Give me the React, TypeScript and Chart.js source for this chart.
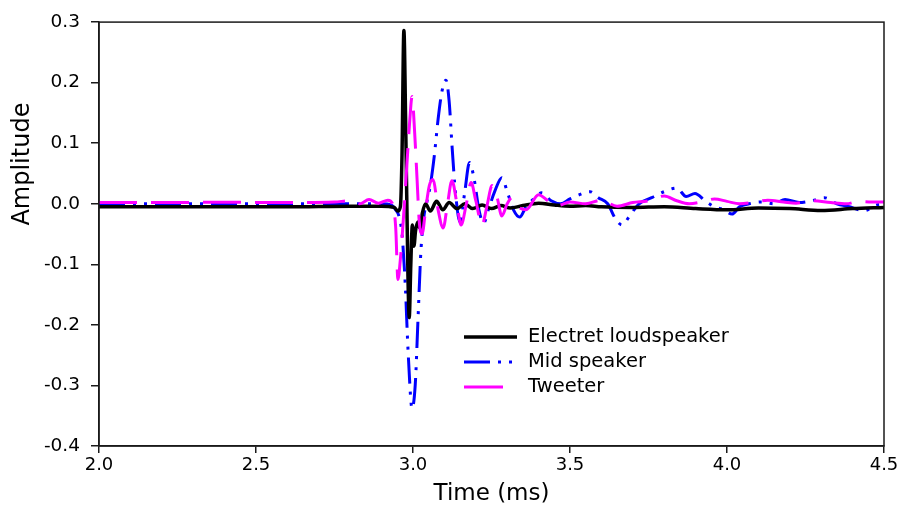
import React, { useEffect, useRef } from 'react';
import { Chart, registerables } from 'chart.js';

Chart.register(...registerables);

// ---- Data ----
const xTickValues = [2.0, 2.5, 3.0, 3.5, 4.0, 4.5];
const yTickValues = [-0.4, -0.3, -0.2, -0.1, 0.0, 0.1, 0.2, 0.3];
const seriesNames = ['Electret loudspeaker', 'Mid speaker', 'Tweeter'];

// Electret loudspeaker (black, solid)
const electretTime = [2.0, 2.2, 2.4, 2.6, 2.8, 2.9, 2.94, 2.952, 2.96, 2.965, 2.971, 2.977, 2.984, 2.988, 2.993, 2.998, 3.003, 3.008, 3.015, 3.022, 3.03, 3.04, 3.055, 3.075, 3.095, 3.115, 3.14, 3.165, 3.19, 3.22, 3.25, 3.28, 3.31, 3.35, 3.4, 3.45, 3.5, 3.55, 3.6, 3.7, 3.8, 3.9, 4.0, 4.1, 4.2, 4.3, 4.4, 4.5];
const electretAmp = [-0.005, -0.005, -0.005, -0.005, -0.004, -0.004, -0.006, -0.012, -0.004, 0.08, 0.286, 0.12, -0.12, -0.188, -0.1, -0.035, -0.07, -0.045, -0.03, -0.04, -0.015, 0.0, -0.012, 0.004, -0.01, 0.002, -0.008, 0.0, -0.008, -0.002, -0.008, -0.003, -0.007, -0.003, 0.001, -0.002, -0.004, -0.003, -0.005, -0.006, -0.005, -0.008, -0.01, -0.007, -0.008, -0.011, -0.008, -0.006];

// Mid speaker (blue, dash-dot-dot)
const midTime = [2.0, 2.2, 2.4, 2.6, 2.8, 2.9, 2.93, 2.945, 2.955, 2.965, 2.975, 2.985, 2.997, 3.007, 3.016, 3.025, 3.035, 3.045, 3.055, 3.068, 3.08, 3.092, 3.105, 3.115, 3.125, 3.135, 3.15, 3.165, 3.18, 3.195, 3.21, 3.225, 3.24, 3.26, 3.283, 3.3, 3.32, 3.34, 3.36, 3.38, 3.41, 3.44, 3.47, 3.5, 3.53, 3.564, 3.59, 3.62, 3.645, 3.666, 3.69, 3.72, 3.76, 3.8, 3.84, 3.87, 3.898, 3.93, 3.96, 3.99, 4.016, 4.04, 4.07, 4.11, 4.15, 4.185, 4.23, 4.27, 4.31, 4.35, 4.39, 4.42, 4.44, 4.47, 4.5];
const midAmp = [0, 0, 0, 0, 0, 0, -0.002, -0.01, -0.02, -0.05, -0.13, -0.25, -0.338, -0.3, -0.19, -0.08, -0.02, 0.005, 0.03, 0.08, 0.14, 0.185, 0.204, 0.17, 0.09, 0.02, -0.03, 0.02, 0.068, 0.04, -0.01, -0.032, -0.01, 0.02, 0.043, 0.02, -0.01, -0.022, -0.005, 0.006, 0.018, 0.005, 0.0, 0.008, 0.015, 0.02, 0.01, 0.0, -0.025, -0.035, -0.02, 0.0, 0.01, 0.02, 0.026, 0.012, 0.017, 0.005, -0.005, -0.01, -0.017, -0.005, 0.0, 0.003, 0.0, 0.007, 0.002, 0.005, 0.01, 0.0, -0.005, -0.01, -0.011, -0.003, 0.0];

// Tweeter (magenta, long dash)
const tweeterTime = [2.0, 2.2, 2.4, 2.6, 2.75, 2.8, 2.83, 2.86, 2.89, 2.92, 2.935, 2.945, 2.952, 2.96, 2.97, 2.98, 2.99, 2.997, 3.005, 3.013, 3.02, 3.029, 3.04, 3.052, 3.064, 3.08, 3.096, 3.11, 3.124, 3.14, 3.153, 3.17, 3.185, 3.2, 3.22, 3.235, 3.252, 3.268, 3.283, 3.3, 3.315, 3.335, 3.36, 3.4, 3.43, 3.46, 3.5, 3.55, 3.6, 3.65, 3.7, 3.75, 3.8, 3.84, 3.88, 3.92, 3.96, 4.0, 4.04, 4.08, 4.13, 4.18, 4.22, 4.27, 4.33, 4.38, 4.42, 4.46, 4.5];
const tweeterAmp = [0.002, 0.002, 0.0025, 0.002, 0.003, 0.005, 0.0, 0.007, 0.001, 0.006, 0.0, -0.04, -0.125, -0.09, -0.02, 0.06, 0.14, 0.177, 0.12, 0.04, -0.03, -0.05, -0.01, 0.03, 0.04, -0.01, -0.04, 0.0, 0.038, 0.0, -0.035, 0.0, 0.035, 0.005, -0.035, -0.005, 0.03, 0.01, -0.02, 0.0, 0.01, -0.005, -0.01, 0.015, 0.005, -0.003, 0.003, 0.0, 0.006, -0.004, 0.002, 0.005, 0.013, 0.005, 0.0, 0.003, 0.008, 0.004, 0.0, 0.002, 0.006, 0.003, 0.001, 0.005, 0.002, 0.0, 0.004, 0.003, 0.003];

const FONT = "'DejaVu Sans', 'Liberation Sans', Arial, sans-serif";
const AXIS_COLOR = '#1a1a1a';

const toPoints = (xs: number[], ys: number[]) => xs.map((x, i) => ({ x, y: ys[i] }));

const frameAndLabels = {
  id: 'frameAndLabels',
  afterDatasetsDraw(chart: any) {
    const { ctx, chartArea } = chart;
    const { left, top, right, bottom } = chartArea;
    ctx.save();
    // box frame
    ctx.strokeStyle = AXIS_COLOR;
    ctx.lineWidth = 1.5;
    ctx.strokeRect(left, top, right - left, bottom - top);

    // y axis title (placed as in reference)
    ctx.save();
    ctx.translate(left - 76, top + 142);
    ctx.rotate(-Math.PI / 2);
    ctx.fillStyle = '#000';
    ctx.font = `24px ${FONT}`;
    ctx.textAlign = 'center';
    ctx.textBaseline = 'middle';
    ctx.fillText('Amplitude', 0, 0);
    ctx.restore();

    // legend, in the order of seriesNames
    const lx = left + 365;
    const ly = top + 315;
    const rowH = 25;
    const sampleLen = 53;
    const ordered = [...chart.data.datasets].sort(
      (a: any, b: any) => seriesNames.indexOf(a.label) - seriesNames.indexOf(b.label)
    );
    ordered.forEach((ds: any, i: number) => {
      const y = ly + i * rowH;
      ctx.save();
      ctx.strokeStyle = ds.borderColor;
      ctx.lineWidth = ds.borderWidth;
      ctx.setLineDash(ds.legendDash || []);
      ctx.beginPath();
      ctx.moveTo(lx, y);
      ctx.lineTo(lx + sampleLen, y);
      ctx.stroke();
      ctx.restore();
      ctx.fillStyle = '#000';
      ctx.font = `19.5px ${FONT}`;
      ctx.textAlign = 'left';
      ctx.textBaseline = 'middle';
      ctx.fillText(ds.label, lx + 64, y);
    });
    ctx.restore();
  },
};

export default function App() {
  const canvasRef = useRef<HTMLCanvasElement | null>(null);

  useEffect(() => {
    if (!canvasRef.current) return;
    const chart = new Chart(canvasRef.current, {
      type: 'line',
      data: {
        datasets: [
          {
            label: seriesNames[1],
            data: toPoints(midTime, midAmp),
            borderColor: '#0000ff',
            borderWidth: 3,
            borderDash: [26, 8, 3, 8, 3, 8],
            legendDash: [26, 8, 3, 8, 3, 8],
            pointRadius: 0,
            cubicInterpolationMode: 'monotone',
            order: 3,
          } as any,
          {
            label: seriesNames[0],
            data: toPoints(electretTime, electretAmp),
            borderColor: '#000000',
            borderWidth: 3.5,
            pointRadius: 0,
            cubicInterpolationMode: 'monotone',
            order: 2,
          } as any,
          {
            label: seriesNames[2],
            data: toPoints(tweeterTime, tweeterAmp),
            borderColor: '#ff00ff',
            borderWidth: 3,
            borderDash: [38, 14],
            legendDash: [39, 20],
            pointRadius: 0,
            cubicInterpolationMode: 'monotone',
            order: 1,
          } as any,
        ],
      },
      options: {
        responsive: false,
        animation: false,
        devicePixelRatio: 1,
        layout: { padding: { top: 18, right: 20, left: 0, bottom: 0 } },
        plugins: {
          legend: { display: false },
          tooltip: { enabled: false },
        },
        scales: {
          x: {
            type: 'linear',
            min: 2.0,
            max: 4.5,
            afterBuildTicks: (s: any) => {
              s.ticks = xTickValues.map((v) => ({ value: v }));
            },
            afterFit: (s: any) => {
              s.height = 75;
            },
            grid: {
              display: true,
              drawOnChartArea: false,
              drawTicks: true,
              tickLength: 7,
              color: AXIS_COLOR,
              lineWidth: 1.5,
            },
            border: { display: true, color: AXIS_COLOR, width: 1.5 },
            ticks: {
              autoSkip: false,
              maxRotation: 0,
              padding: 2,
              color: '#000',
              font: { family: FONT, size: 18 },
              callback: (v: any) => Number(v).toFixed(1),
            },
            title: {
              display: true,
              text: 'Time (ms)',
              color: '#000',
              font: { family: FONT, size: 23 },
              padding: { top: 0, bottom: 13 },
            },
          },
          y: {
            type: 'linear',
            min: -0.4,
            max: 0.3,
            afterBuildTicks: (s: any) => {
              s.ticks = yTickValues.map((v) => ({ value: v }));
            },
            afterFit: (s: any) => {
              s.width = 99;
            },
            grid: {
              display: true,
              drawOnChartArea: false,
              drawTicks: true,
              tickLength: 8,
              color: AXIS_COLOR,
              lineWidth: 1.5,
            },
            border: { display: true, color: AXIS_COLOR, width: 1.5 },
            ticks: {
              autoSkip: false,
              padding: 11,
              color: '#000',
              font: { family: FONT, size: 18.5 },
              callback: (v: any) => {
                const n = Number(v);
                return (Math.abs(n) < 1e-9 ? 0 : n).toFixed(1);
              },
            },
          },
        },
      },
      plugins: [frameAndLabels],
    } as any);
    return () => chart.destroy();
  }, []);

  return (
    <div style={{ position: 'absolute', left: 0, top: 0, width: 904, height: 521, background: '#fff' }}>
      <canvas ref={canvasRef} width={904} height={521} style={{ display: 'block' }} />
    </div>
  );
}
